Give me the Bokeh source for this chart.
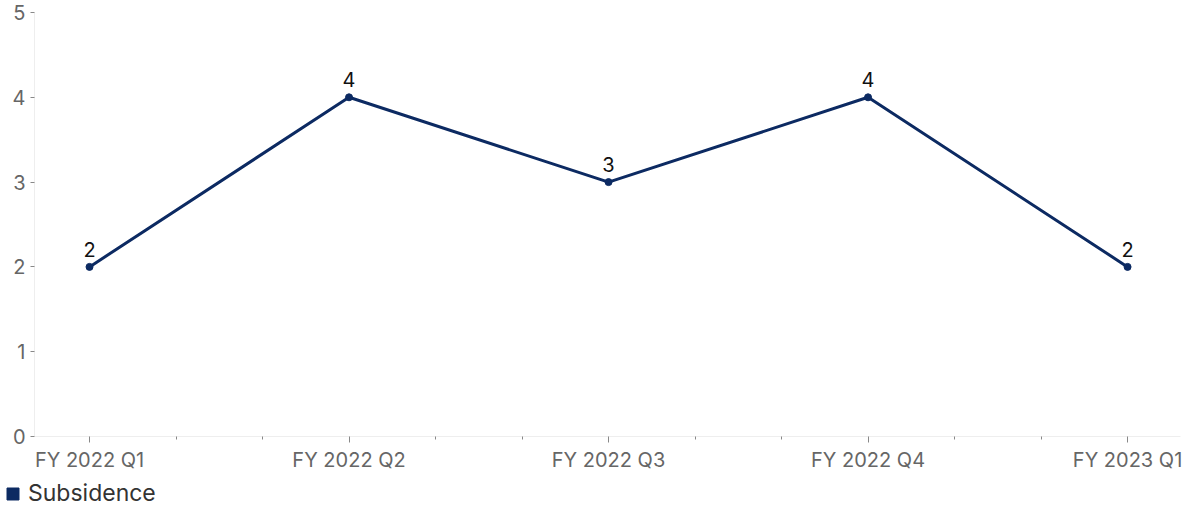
from bokeh.plotting import figure
from bokeh.layouts import column
from bokeh.models import ColumnDataSource, FixedTicker, Legend, LegendItem, Range1d
from bokeh.core.properties import value
from bokeh.embed import file_html
from bokeh.resources import INLINE

categories = ["FY 2022 Q1", "FY 2022 Q2", "FY 2022 Q3", "FY 2022 Q4", "FY 2023 Q1"]
subsidence = [2, 4, 3, 4, 2]
y_ticks = [0, 1, 2, 3, 4, 5]
series_name = "Subsidence"

FONT = "Inter"
NAVY = "#0c2a62"
TICK_GREY = "#666666"

xs = list(range(len(categories)))
src = ColumnDataSource(dict(x=xs, y=subsidence, lbl=[str(v) for v in subsidence]))

p = figure(width=1186, height=474, output_backend="svg", toolbar_location=None,
           x_range=Range1d(-0.212, len(categories) - 1 + 0.204), y_range=Range1d(0, 5))
p.min_border_left = 34
p.min_border_right = 6
p.min_border_top = 12
p.min_border_bottom = 38
p.outline_line_color = None
p.xgrid.visible = False
p.ygrid.visible = False

p.line("x", "y", source=src, line_color=NAVY, line_width=3)
p.scatter("x", "y", source=src, size=7, fill_color=NAVY, line_color=NAVY)
p.text("x", "y", text="lbl", source=src, y_offset=-10, text_align="center",
       text_baseline="bottom", text_font=value(FONT), text_font_size="20px",
       text_color="#111111")

minor = []
for i in range(len(categories) - 1):
    minor += [i + 1 / 3, i + 2 / 3]
p.xaxis.ticker = FixedTicker(ticks=xs, minor_ticks=minor)
p.xaxis.major_label_overrides = {i: c for i, c in enumerate(categories)}
p.yaxis.ticker = FixedTicker(ticks=y_ticks)

for ax in (p.xaxis[0], p.yaxis[0]):
    ax.axis_line_color = "#eeeeee"
    ax.axis_line_width = 1
    ax.major_tick_line_color = "#888888"
    ax.minor_tick_line_color = "#888888"
    ax.major_tick_in = 0
    ax.minor_tick_in = 0
    ax.major_label_text_font = FONT
    ax.major_label_text_color = TICK_GREY
    ax.major_label_text_font_size = "20px"

p.xaxis.major_tick_out = 6
p.xaxis.minor_tick_out = 3
p.xaxis.major_label_standoff = 5
p.yaxis.major_tick_out = 4
p.yaxis.minor_tick_line_color = None
p.yaxis.major_label_standoff = 5

# legend strip
lg = figure(width=1186, height=36, output_backend="svg", toolbar_location=None,
            x_range=Range1d(0, 1), y_range=Range1d(0, 1))
lg.frame_align = False
lg.min_border = 0
lg.axis.visible = False
lg.grid.visible = False
lg.outline_line_color = None
sq = lg.quad(left=[-3], right=[-2], bottom=[-3], top=[-2], fill_color=NAVY, line_color=NAVY)
legend = Legend(items=[LegendItem(label=series_name, renderers=[sq])],
                location=(5, 3), orientation="horizontal",
                background_fill_alpha=0, border_line_color=None,
                label_text_font=FONT, label_text_font_size="23px",
                label_text_color="#333333", glyph_width=15, glyph_height=15,
                padding=0, margin=0, label_standoff=8, label_height=24)
lg.add_layout(legend, "center")

open("out.html", "w").write(file_html(column(p, lg, spacing=0), INLINE))
